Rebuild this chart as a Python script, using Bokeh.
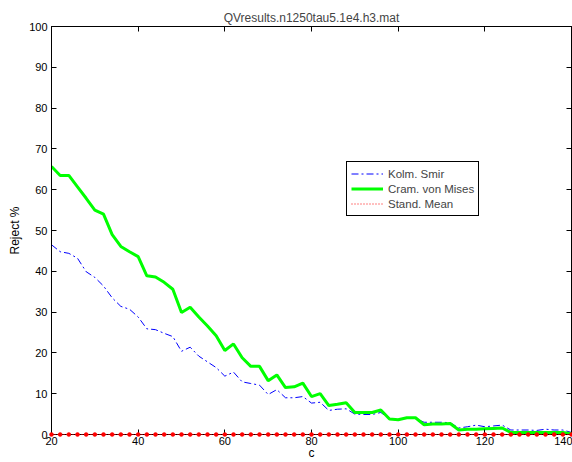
from bokeh.plotting import figure
from bokeh.models import Range1d, LinearAxis, FixedTicker, Legend, LegendItem, ColumnDataSource
from bokeh.embed import file_html
from bokeh.resources import INLINE

title_text = "QVresults.n1250tau5.1e4.h3.mat"
x_label = "c"
y_label = "Reject %"
x_ticks = [20, 40, 60, 80, 100, 120, 140]
y_ticks = [0, 10, 20, 30, 40, 50, 60, 70, 80, 90, 100]

c_values = [20, 22, 24, 26, 28, 30, 32, 34, 36, 38,
            40, 42, 44, 46, 48, 50, 52, 54, 56, 58,
            60, 62, 64, 66, 68, 70, 72, 74, 76, 78,
            80, 82, 84, 86, 88, 90, 92, 94, 96, 98,
            100, 102, 104, 106, 108, 110, 112, 114, 116, 118,
            120, 122, 124, 126, 128, 130, 132, 134, 136, 138,
            140]

kolm_smir = [46.5, 44.8, 44.4, 43.2, 39.9, 38.5, 36.4, 33.5, 31.4, 30.7,
             28.8, 25.9, 25.7, 24.8, 24.0, 20.4, 21.4, 19.2, 17.8, 16.4,
             14.3, 15.3, 12.9, 12.5, 12.1, 9.8, 11.0, 9.0, 9.0, 9.3,
             7.7, 7.9, 5.9, 6.2, 6.3, 5.0, 4.9, 4.9, 5.4, 3.8,
             3.6, 4.0, 3.9, 3.0, 3.0, 3.0, 2.9, 1.6, 1.9, 2.3,
             1.9, 2.1, 2.3, 1.1, 1.1, 1.1, 1.0, 1.3, 1.1, 1.1,
             0.5]

cram_von_mises = [65.7, 63.5, 63.5, 60.7, 57.9, 55.0, 54.0, 49.0, 46.1, 44.8,
                  43.6, 38.9, 38.6, 37.3, 35.6, 29.9, 31.2, 28.8, 26.6, 24.2,
                  20.6, 22.2, 18.8, 16.7, 16.7, 13.2, 14.6, 11.5, 11.7, 12.6,
                  9.3, 10.0, 7.1, 7.4, 7.8, 5.4, 5.4, 5.4, 6.0, 3.8,
                  3.6, 4.1, 4.1, 2.4, 2.6, 2.6, 2.7, 1.1, 1.3, 1.3,
                  1.4, 1.5, 1.6, 0.5, 0.5, 0.5, 0.5, 0.5, 0.5, 0.5,
                  0.2]

stand_mean = [0, 0, 0, 0, 0, 0, 0, 0, 0, 0,
              0, 0, 0, 0, 0, 0, 0, 0, 0, 0,
              0, 0, 0, 0, 0, 0, 0, 0, 0, 0,
              0, 0, 0, 0, 0, 0, 0, 0, 0, 0,
              0, 0, 0, 0, 0, 0, 0, 0, 0, 0,
              0, 0, 0, 0, 0, 0, 0, 0, 0, 0,
              0]

series_names = ["Kolm. Smir", "Cram. von Mises", "Stand. Mean"]

src = ColumnDataSource(dict(c=c_values, ks=kolm_smir, cvm=cram_von_mises, sm=stand_mean))

FONT = "Liberation Sans"

p = figure(width=572, height=462, output_backend="svg", toolbar_location=None,
           x_range=Range1d(20, 140), y_range=Range1d(0, 100),
           min_border_left=51, min_border_right=1, min_border_top=26, min_border_bottom=28,
           title=title_text)

p.background_fill_color = "white"
p.border_fill_color = "white"
p.outline_line_color = "black"
p.outline_line_width = 1
p.outline_line_alpha = 1.0
p.xgrid.visible = False
p.ygrid.visible = False

p.title.text_font = FONT
p.title.text_font_size = "12px"
p.title.text_font_style = "normal"
p.title.align = "center"
p.title.standoff = 4

for ax, ticks in ((p.xaxis[0], x_ticks), (p.yaxis[0], y_ticks)):
    ax.ticker = FixedTicker(ticks=ticks)
    ax.major_tick_in = 5
    ax.major_tick_out = 0
    ax.minor_tick_in = 0
    ax.minor_tick_out = 0
    ax.axis_line_color = "black"
    ax.major_tick_line_color = "black"
    ax.major_label_text_font = FONT
    ax.major_label_text_font_size = "11px"
    ax.major_label_text_color = "black"
    ax.axis_label_text_font = FONT
    ax.axis_label_text_font_size = "12px"
    ax.axis_label_text_font_style = "normal"
    ax.axis_label_text_color = "black"

p.xaxis.axis_label = x_label
p.yaxis.axis_label = y_label
p.xaxis.major_label_standoff = 2
p.xaxis.axis_label_standoff = -2
p.yaxis.major_label_standoff = 4
p.yaxis.axis_label_standoff = 4

for loc, ticks in (("above", x_ticks), ("right", y_ticks)):
    ax = LinearAxis(ticker=FixedTicker(ticks=ticks),
                    major_label_text_font_size="0px", major_label_text_color=None,
                    major_label_standoff=0,
                    major_tick_in=5, major_tick_out=0, minor_tick_in=0, minor_tick_out=0,
                    axis_line_color="black", major_tick_line_color="black")
    p.add_layout(ax, loc)

r_ks = p.line("c", "ks", source=src, line_color="#0000ff", line_width=1, line_dash="7 3 2 3")
r_cvm = p.line("c", "cvm", source=src, line_color="#00ff00", line_width=3)
r_sm_line = p.line("c", "sm", source=src, line_color="#ff0000", line_width=1, line_dash="1 2", level="overlay")
r_sm_pts = p.scatter("c", "sm", source=src, marker="circle", size=4, fill_color="#ff0000",
                     line_color="#ff0000", line_width=0.5, level="overlay")

legend = Legend(items=[LegendItem(label=series_names[0], renderers=[r_ks]),
                       LegendItem(label=series_names[1], renderers=[r_cvm]),
                       LegendItem(label=series_names[2], renderers=[r_sm_line])],
                location=(295, 218))
legend.border_line_color = "black"
legend.border_line_width = 1
legend.border_line_alpha = 1.0
legend.background_fill_color = "white"
legend.background_fill_alpha = 1.0
legend.label_text_font = FONT
legend.label_text_font_size = "11.5px"
legend.glyph_width = 32
legend.glyph_height = 15
legend.label_height = 15
legend.spacing = 0
legend.padding = 4
legend.margin = 0
legend.label_standoff = 5
p.add_layout(legend)

open("out.html", "w").write(file_html(p, INLINE))
